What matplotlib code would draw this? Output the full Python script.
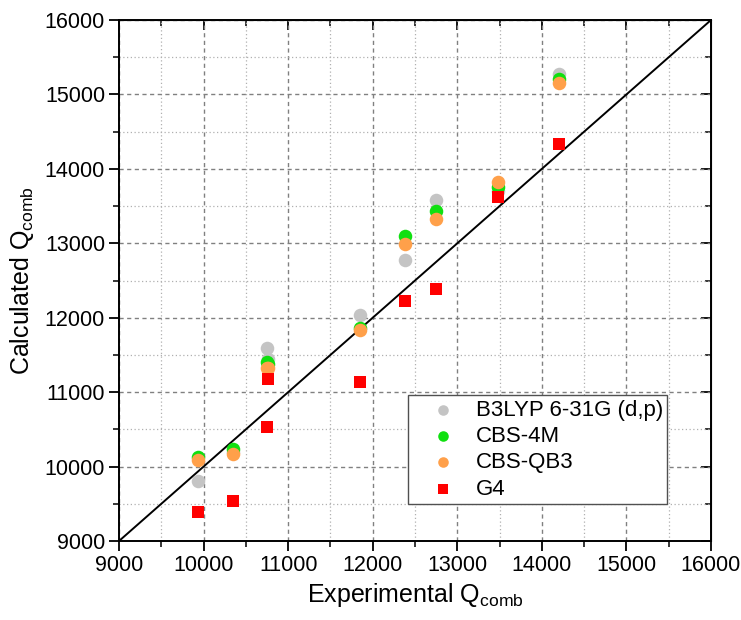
import numpy as np
import matplotlib.pyplot as plt
from matplotlib.ticker import MultipleLocator

plt.rcParams['font.family'] = ['Liberation Sans', 'DejaVu Sans']

experimental = np.array([9930, 10350, 10745, 10760, 11850, 12380, 12745, 13485, 14205])
b3lyp = np.array([9800, 10200, 11590, 11450, 12040, 12780, 13580, 13700, 15275])
cbs4m = np.array([10130, 10235, 11400, 11380, 11860, 13100, 13430, 13760, 15210])
cbsqb3 = np.array([10090, 10170, 11320, 11330, 11830, 12990, 13330, 13820, 15160])
g4 = np.array([9390, 9540, 10530, 11180, 11130, 12230, 12380, 13620, 14330])

fig = plt.figure(figsize=(7.41, 6.2), dpi=100)
ax = fig.add_axes([0.1606, 0.1274, 0.7989, 0.8403])

ax.plot([9000, 16000], [9000, 16000], color='black', lw=1.4, zorder=2)

ax.scatter(experimental, b3lyp, s=95, color='#c4c4c4', marker='o', label='B3LYP 6-31G (d,p)', zorder=3, linewidths=0)
ax.scatter(experimental, cbs4m, s=95, color='#10e010', marker='o', label='CBS-4M', zorder=4, linewidths=0)
ax.scatter(experimental, cbsqb3, s=95, color='#ffa04a', marker='o', label='CBS-QB3', zorder=5, linewidths=0)
ax.scatter(experimental, g4, s=75, color='#ff0000', marker='s', label='G4', zorder=6, linewidths=0)

ax.set_xlim(9000, 16000)
ax.set_ylim(9000, 16000)
for axis in (ax.xaxis, ax.yaxis):
    axis.set_major_locator(MultipleLocator(1000))
    axis.set_minor_locator(MultipleLocator(500))

ax.grid(which='major', color='#808080', linestyle=(0, (3, 2.5)), lw=1.0)
ax.grid(which='minor', color='#b0b0b0', linestyle=(0, (1, 2)), lw=0.9)
ax.set_axisbelow(True)

ax.tick_params(which='major', direction='out', length=7, width=1.3, labelsize=15.5, pad=3)
ax.tick_params(which='minor', direction='out', length=4, width=1.1)
for s in ax.spines.values():
    s.set_linewidth(1.4)

top = ax.secondary_xaxis('top')
right = ax.secondary_yaxis('right')
for sec in (top, right):
    sec.tick_params(which='major', direction='in', length=7, width=1.3, labelsize=0)
    sec.tick_params(which='minor', direction='in', length=4, width=1.1)
top.xaxis.set_major_locator(MultipleLocator(1000))
top.xaxis.set_minor_locator(MultipleLocator(500))
right.yaxis.set_major_locator(MultipleLocator(1000))
right.yaxis.set_minor_locator(MultipleLocator(500))
top.set_xticklabels([])
right.set_yticklabels([])

ax.set_xlabel('Experimental Q$_\\mathregular{comb}$', fontsize=18, labelpad=4)
ax.set_ylabel('Calculated Q$_\\mathregular{comb}$', fontsize=18, labelpad=6)

leg = ax.legend(loc='lower left', bbox_to_anchor=(0.488, 0.071), fontsize=16,
                frameon=True, fancybox=False, edgecolor='#505050', framealpha=1,
                handletextpad=0.05, borderpad=0.2, labelspacing=0.24, handlelength=2.8,
                borderaxespad=0, markerscale=0.78)
leg.get_frame().set_linewidth(1.0)

fig.savefig('out.png', dpi=100)
